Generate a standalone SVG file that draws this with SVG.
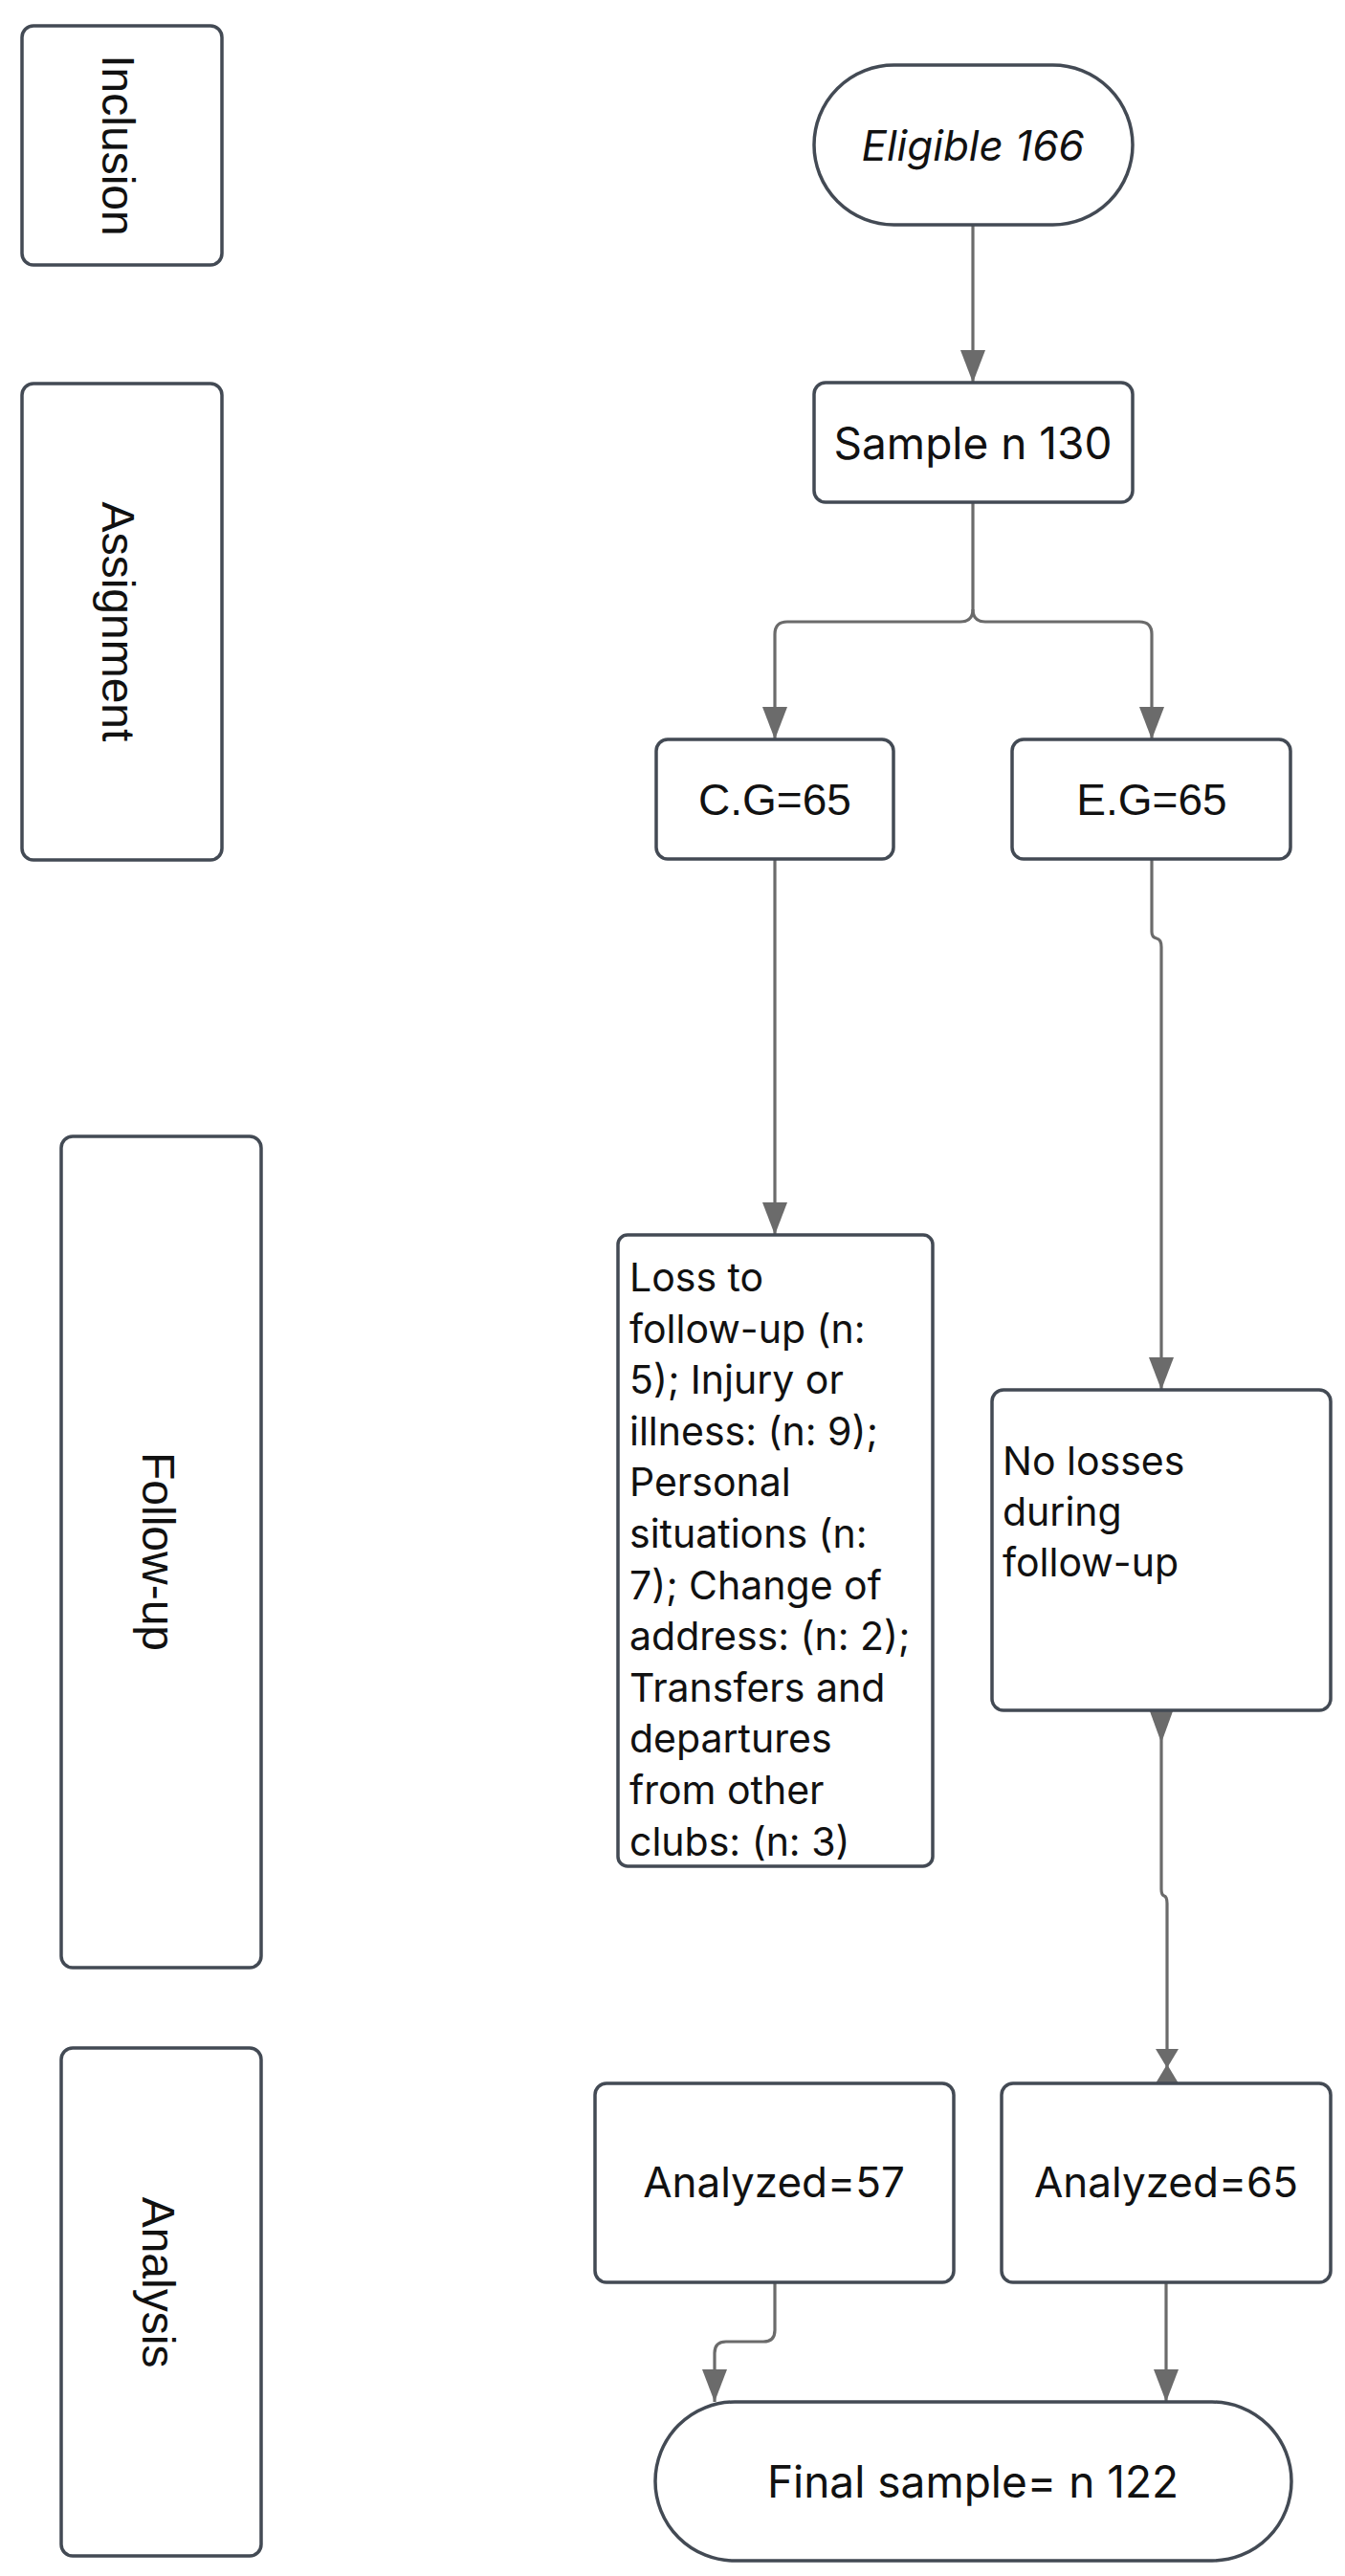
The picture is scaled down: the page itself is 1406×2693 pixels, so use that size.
<svg xmlns="http://www.w3.org/2000/svg" width="1406" height="2693" viewBox="0 0 1406 2693">
<style>
.node{fill:#ffffff;stroke:#434a54;stroke-width:3.5}
.conn{fill:none;stroke:#6b6b6b;stroke-width:3.2}
.head{fill:#6b6b6b;stroke:none}
.lab{font-family:"Liberation Sans",Arial,sans-serif;font-size:48px;fill:#111;text-anchor:middle}
.t{font-family:Inter,"Noto Sans",sans-serif;fill:#111;text-anchor:middle}
.ta{font-family:"Liberation Sans",Arial,sans-serif;fill:#111;text-anchor:middle}
.tl{font-family:Inter,"Noto Sans",sans-serif;fill:#111;font-size:41px}
</style>
<defs>
<marker id="arr" markerUnits="userSpaceOnUse" markerWidth="34" markerHeight="26" viewBox="0 0 34 26" refX="34" refY="13" orient="auto">
<path d="M0,0 L34,13 L0,26 Z" fill="#6b6b6b"/>
</marker>
</defs>
<rect width="1406" height="2693" fill="#ffffff"/>

<g id="connectors">
<path class="conn" d="M1017,235 V400" marker-end="url(#arr)"/>
<path class="conn" d="M1017,525 V637 Q1017,650 1004,650 H823 Q810,650 810,663 V773" marker-end="url(#arr)"/>
<path class="conn" d="M1017,637 Q1017,650 1030,650 H1191 Q1204,650 1204,663 V773" marker-end="url(#arr)"/>
<path class="conn" d="M810,898 V1291" marker-end="url(#arr)"/>
<path class="conn" d="M1204,898 V974 Q1204,980 1209,981 Q1214,982 1214,990 V1453" marker-end="url(#arr)"/>
<path class="conn" d="M1214,1788 V1975 Q1214,1981 1217,1982 Q1220,1983 1220,1990 V2178"/>
<polygon class="head" points="1202,1789 1226,1789 1214,1822"/>
<polygon class="head" points="1208,2142 1232,2142 1220,2162"/>
<polygon class="head" points="1208,2178 1232,2178 1220,2158"/>
<path class="conn" d="M810,2386 V2436 Q810,2448 798,2448 H759 Q747,2448 747,2460 V2511" marker-end="url(#arr)"/>
<path class="conn" d="M1219,2386 V2511" marker-end="url(#arr)"/>
</g>

<g id="inclusion">
<rect class="node" x="23" y="27" width="209" height="250" rx="12"/>
<text class="lab" transform="translate(124,152) rotate(90)" x="0" y="17">Inclusion</text>
</g>
<g id="assignment">
<rect class="node" x="23" y="401" width="209" height="498" rx="12"/>
<text class="lab" transform="translate(124,650) rotate(90)" x="0" y="17">Assignment</text>
</g>
<g id="followup">
<rect class="node" x="64" y="1188" width="209" height="869" rx="12"/>
<text class="lab" transform="translate(166,1622) rotate(90)" x="0" y="17">Follow-up</text>
</g>
<g id="analysis">
<rect class="node" x="64" y="2141" width="209" height="531" rx="12"/>
<text class="lab" transform="translate(166,2386) rotate(90)" x="0" y="17">Analysis</text>
</g>

<g id="eligible">
<rect class="node" x="851" y="68" width="333" height="167" rx="83.5"/>
<text class="t" x="1017" y="168" font-size="44" font-style="italic">Eligible 166</text>
</g>
<g id="sample">
<rect class="node" x="851" y="400" width="333" height="125" rx="12"/>
<text class="t" x="1017" y="480" font-size="46">Sample n 130</text>
</g>
<g id="cg">
<rect class="node" x="686" y="773" width="248" height="125" rx="12"/>
<text class="ta" x="810" y="852" font-size="46">C.G=65</text>
</g>
<g id="eg">
<rect class="node" x="1058" y="773" width="291" height="125" rx="12"/>
<text class="ta" x="1204" y="852" font-size="46">E.G=65</text>
</g>
<g id="loss">
<rect class="node" x="646" y="1291" width="329" height="660" rx="10"/>
<text class="tl">
<tspan x="658" y="1350">Loss to</tspan>
<tspan x="658" y="1403.6">follow-up (n:</tspan>
<tspan x="658" y="1457.2">5); Injury or</tspan>
<tspan x="658" y="1510.8">illness: (n: 9);</tspan>
<tspan x="658" y="1564.4">Personal</tspan>
<tspan x="658" y="1618">situations (n:</tspan>
<tspan x="658" y="1671.6">7); Change of</tspan>
<tspan x="658" y="1725.2">address: (n: 2);</tspan>
<tspan x="658" y="1778.8">Transfers and</tspan>
<tspan x="658" y="1832.4">departures</tspan>
<tspan x="658" y="1886">from other</tspan>
<tspan x="658" y="1939.6">clubs: (n: 3)</tspan>
</text>
</g>
<g id="nolosses">
<rect class="node" x="1037" y="1453" width="354" height="335" rx="12"/>
<text class="tl">
<tspan x="1048" y="1542">No losses</tspan>
<tspan x="1048" y="1595">during</tspan>
<tspan x="1048" y="1648">follow-up</tspan>
</text>
</g>
<g id="analyzed57">
<rect class="node" x="622" y="2178" width="375" height="208" rx="12"/>
<text class="t" x="809" y="2297" font-size="44">Analyzed=57</text>
</g>
<g id="analyzed65">
<rect class="node" x="1047" y="2178" width="344" height="208" rx="12"/>
<text class="t" x="1219" y="2297" font-size="44">Analyzed=65</text>
</g>
<g id="final">
<rect class="node" x="685" y="2511" width="665" height="166" rx="83"/>
<text class="t" x="1017" y="2611" font-size="46">Final sample= n 122</text>
</g>
</svg>
